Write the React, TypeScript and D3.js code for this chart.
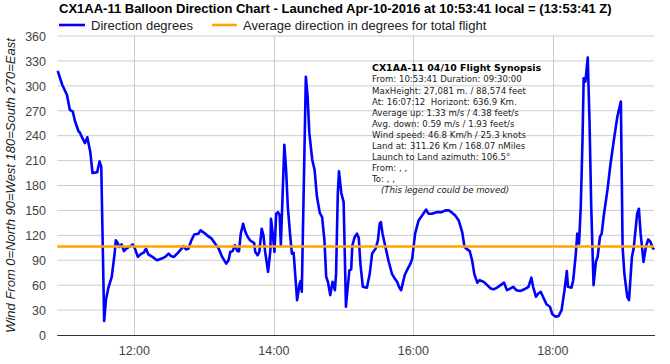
import * as d3 from 'd3';

// Wind direction log (local clock time, degrees the wind comes from)
const TIMES = [
  '10:54:00', '10:58:00', '11:02:00', '11:04:30', '11:07:00', '11:09:00', '11:12:00', '11:13:00',
  '11:15:00', '11:17:30', '11:19:30', '11:20:30', '11:22:00', '11:24:00', '11:28:00', '11:30:00',
  '11:31:30', '11:34:00', '11:35:30', '11:37:30', '11:40:30', '11:43:00', '11:44:00', '11:45:30',
  '11:47:00', '11:49:00', '11:51:00', '11:53:00', '11:55:30', '11:58:30', '12:00:30', '12:03:00',
  '12:06:00', '12:08:00', '12:10:00', '12:12:00', '12:15:30', '12:19:30', '12:23:30', '12:26:30',
  '12:29:30', '12:31:30', '12:34:00', '12:37:30', '12:40:00', '12:42:00', '12:44:30', '12:46:30',
  '12:49:00', '12:51:30', '12:55:00', '12:57:00', '13:00:00', '13:02:30', '13:06:30', '13:09:30',
  '13:12:30', '13:15:30', '13:19:00', '13:21:00', '13:22:30', '13:24:30', '13:26:30', '13:28:30',
  '13:30:00', '13:31:30', '13:33:30', '13:35:30', '13:37:30', '13:39:30', '13:41:30', '13:43:00',
  '13:44:00', '13:46:00', '13:47:30', '13:49:30', '13:51:00', '13:52:30', '13:55:00', '13:57:00',
  '13:57:30', '13:59:00', '14:00:30', '14:02:00', '14:03:30', '14:05:00', '14:06:00', '14:09:00',
  '14:10:30', '14:12:00', '14:14:00', '14:15:30', '14:17:00', '14:18:30', '14:20:00', '14:22:00',
  '14:23:00', '14:24:00', '14:27:30', '14:29:00', '14:30:30', '14:33:00', '14:35:00', '14:37:00',
  '14:39:30', '14:41:30', '14:43:30', '14:45:00', '14:46:30', '14:48:30', '14:50:30', '14:52:30',
  '14:53:30', '14:55:00', '14:56:00', '14:58:00', '15:00:00', '15:02:00', '15:03:00', '15:05:00',
  '15:06:30', '15:07:30', '15:09:30', '15:11:30', '15:13:00', '15:14:30', '15:16:30', '15:20:00',
  '15:22:30', '15:24:30', '15:27:30', '15:29:30', '15:31:00', '15:32:00', '15:33:30', '15:36:00',
  '15:38:30', '15:41:30', '15:43:30', '15:46:00', '15:48:00', '15:49:30', '15:52:30', '15:54:30',
  '15:57:30', '15:59:00', '16:01:30', '16:04:30', '16:07:30', '16:11:00', '16:13:00', '16:16:00',
  '16:20:30', '16:24:30', '16:27:30', '16:30:30', '16:33:30', '16:36:00', '16:39:00', '16:42:00',
  '16:44:00', '16:45:30', '16:48:30', '16:50:30', '16:52:30', '16:55:00', '16:57:00', '17:00:30',
  '17:03:30', '17:06:30', '17:09:00', '17:12:00', '17:15:00', '17:18:00', '17:20:30', '17:23:30',
  '17:26:00', '17:28:30', '17:32:00', '17:35:30', '17:39:00', '17:41:30', '17:43:00', '17:45:30',
  '17:47:30', '17:49:30', '17:51:30', '17:54:30', '17:57:30', '17:59:30', '18:02:30', '18:05:00',
  '18:07:30', '18:10:00', '18:12:00', '18:13:00', '18:16:00', '18:17:30', '18:19:30', '18:21:00',
  '18:22:30', '18:24:00', '18:25:30', '18:26:30', '18:28:00', '18:30:00', '18:31:30', '18:33:00',
  '18:35:00', '18:37:00', '18:38:30', '18:40:30', '18:42:00', '18:44:00', '18:47:00', '18:49:30',
  '18:52:30', '18:55:30', '18:58:30', '19:00:00', '19:01:30', '19:04:00', '19:05:30', '19:08:00',
  '19:09:30', '19:12:30', '19:14:00', '19:15:30', '19:18:00', '19:20:00', '19:22:00', '19:24:00',
  '19:25:30', '19:27:00',
];

const DIRECTIONS = [
  318, 301, 289, 271, 269, 257, 245, 244,
  238, 231, 238, 231, 221, 195, 196, 209,
  203, 17, 42, 56, 70, 98, 114, 111,
  106, 109, 101, 104, 106, 109, 104, 94,
  98, 99, 104, 97, 94, 90, 92, 94,
  98, 95, 94, 99, 103, 107, 103, 104,
  114, 121, 122, 126, 123, 120, 116, 110,
  104, 94, 86, 90, 100, 101, 108, 101,
  101, 122, 134, 124, 118, 114, 112, 111,
  100, 96, 100, 128, 120, 100, 76, 102,
  140, 122, 100, 146, 148, 144, 108, 229,
  199, 154, 120, 98, 99, 70, 42, 61,
  65, 52, 311, 287, 243, 211, 199, 167,
  147, 142, 114, 70, 64, 48, 64, 54,
  74, 171, 197, 171, 160, 34, 50, 78,
  79, 108, 118, 122, 117, 85, 58, 57,
  74, 98, 104, 114, 134, 136, 122, 106,
  90, 74, 69, 64, 57, 54, 72, 78,
  86, 92, 122, 138, 144, 151, 146, 146,
  148, 148, 150, 150, 147, 144, 138, 124,
  106, 104, 101, 90, 73, 63, 66, 64,
  60, 56, 55, 57, 60, 63, 54, 56,
  58, 54, 53, 55, 58, 69, 58, 46,
  50, 52, 46, 37, 34, 25, 22, 23,
  30, 54, 77, 58, 57, 66, 94, 122,
  110, 154, 235, 309, 305, 334, 259, 154,
  60, 88, 94, 118, 122, 146, 175, 205,
  235, 263, 281, 106, 74, 46, 42, 94,
  104, 146, 152, 122, 88, 106, 115, 112,
  106, 103,
];

const AVG_DIRECTION = 106.5;
const FLIGHT_START = '10:53:41';
const FLIGHT_END = '19:27:00';

const Y_TICKS = [0, 30, 60, 90, 120, 150, 180, 210, 240, 270, 300, 330, 360];
const X_TICKS = ['12:00:00', '14:00:00', '16:00:00', '18:00:00'];

const TITLE = 'CX1AA-11 Balloon Direction Chart - Launched Apr-10-2016 at 10:53:41 local = (13:53:41 Z)';
const SERIES_NAMES = ['Direction degrees', 'Average direction in degrees for total flight'];
const Y_TITLE = 'Wind From 0=North 90=West 180=South 270=East';

const SYNOPSIS_TITLE = 'CX1AA-11 04/10 Flight Synopsis';
const SYNOPSIS_LINES = [
  'From: 10:53:41 Duration: 09:30:00',
  'MaxHeight: 27,081 m. / 88,574 feet',
  'At: 16:07:12  Horizont: 636.9 Km.',
  'Average up: 1.33 m/s / 4.38 feet/s',
  'Avg. down: 0.59 m/s / 1.93 feet/s',
  'Wind speed: 46.8 Km/h / 25.3 knots',
  'Land at: 311.26 Km / 168.07 nMiles',
  'Launch to Land azimuth: 106.5\u00b0',
  'From: , ,',
  'To: , ,',
];
const SYNOPSIS_NOTE = '(This legend could be moved)';

const W = 670;
const H = 364;
const plot = { left: 57.3, right: 654, top: 36, bottom: 335 };
const font = 'Arial, "Liberation Sans", sans-serif';
const BLUE = '#0000ff';
const ORANGE = '#ffa500';

const parse = d3.timeParse('%H:%M:%S');

export default function App() {
  const points = TIMES.map((t, i) => ({ t: parse(t) as Date, v: DIRECTIONS[i] }));

  const x = d3
    .scaleTime()
    .domain([parse(FLIGHT_START) as Date, parse(FLIGHT_END) as Date])
    .range([plot.left, plot.right]);
  const y = d3.scaleLinear().domain([0, 360]).range([plot.bottom, plot.top]);

  const line = d3
    .line<{ t: Date; v: number }>()
    .x((d) => x(d.t))
    .y((d) => y(d.v));

  const fmt = d3.timeFormat('%H:%M');
  const synX = 372;
  const synY = 71.3;
  const synStep = 11.1;

  return (
    <svg width={W} height={H} style={{ position: 'absolute', left: 0, top: 0, background: '#fff' }}>
      <rect width={W} height={H} fill="#fff" />

      {/* grid */}
      {Y_TICKS.filter((v) => v > 0).map((v) => (
        <line key={v} x1={plot.left} x2={plot.right} y1={y(v)} y2={y(v)} stroke="#cccccc" strokeWidth={1} />
      ))}
      {X_TICKS.map((t) => {
        const xx = Math.round(x(parse(t) as Date)) + 0.5;
        return <line key={t} x1={xx} x2={xx} y1={plot.top} y2={plot.bottom} stroke="#cccccc" strokeWidth={1} />;
      })}

      {/* synopsis legend, sits under the series */}
      <g fontFamily='"DejaVu Sans", Verdana, sans-serif' fontSize={8.6} fill="#222">
        <text x={synX} y={synY} fontWeight="bold" fontSize={9.4} fill="#000">{SYNOPSIS_TITLE}</text>
        {SYNOPSIS_LINES.map((s, i) => (
          <text key={i} x={synX} y={synY + (i + 1) * synStep} style={{ whiteSpace: 'pre' }}>{s}</text>
        ))}
        <text x={synX + 9} y={synY + (SYNOPSIS_LINES.length + 1) * synStep} fontStyle="italic">{SYNOPSIS_NOTE}</text>
      </g>

      {/* series */}
      <path d={line(points) ?? ''} fill="none" stroke={BLUE} strokeWidth={2.6} strokeLinejoin="round" />
      <line x1={plot.left} x2={plot.right} y1={y(AVG_DIRECTION)} y2={y(AVG_DIRECTION)} stroke={ORANGE} strokeWidth={2.6} />

      {/* baseline */}
      <line x1={plot.left} x2={plot.right + 1} y1={y(0) + 0.5} y2={y(0) + 0.5} stroke="#333" strokeWidth={1.2} />

      {/* y axis labels */}
      <g fontFamily={font} fontSize={12.5} fill="#444">
        {Y_TICKS.map((v) => (
          <text key={v} x={46} y={y(v) + 4.8} textAnchor="end">{v}</text>
        ))}
      </g>
      <text
        transform={`translate(15,${(plot.top + plot.bottom) / 2}) rotate(-90)`}
        textAnchor="middle"
        fontFamily={font}
        fontSize={13}
        fontStyle="italic"
        fill="#222"
      >
        {Y_TITLE}
      </text>

      {/* x axis labels */}
      <g fontFamily={font} fontSize={12.5} fill="#444">
        {X_TICKS.map((t) => (
          <text key={t} x={x(parse(t) as Date)} y={354.5} textAnchor="middle">{fmt(parse(t) as Date)}</text>
        ))}
      </g>

      {/* title and legend */}
      <text x={59} y={12.5} fontFamily={font} fontSize={13} fontWeight="bold" fill="#000">{TITLE}</text>
      <g fontFamily={font} fontSize={13} fill="#222">
        <line x1={59} x2={85} y1={25} y2={25} stroke={BLUE} strokeWidth={2.6} />
        <text x={91} y={29.5}>{SERIES_NAMES[0]}</text>
        <line x1={212} x2={237} y1={25} y2={25} stroke={ORANGE} strokeWidth={2.6} />
        <text x={243} y={29.5}>{SERIES_NAMES[1]}</text>
      </g>
    </svg>
  );
}
